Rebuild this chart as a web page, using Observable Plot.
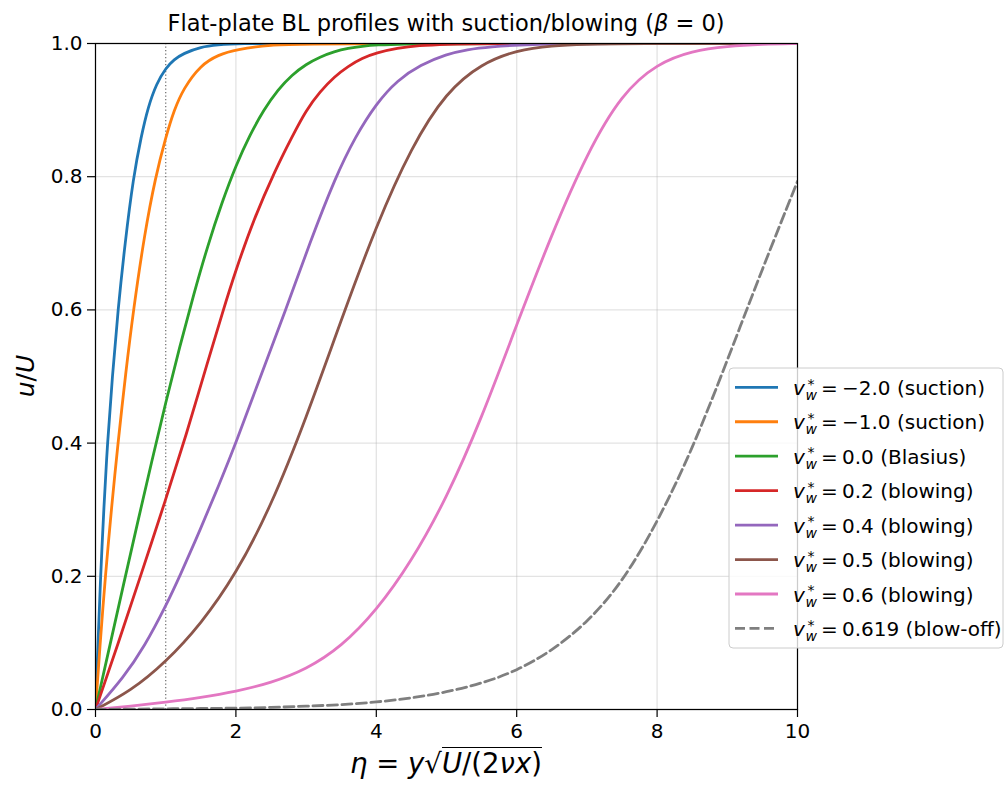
<!DOCTYPE html>
<html><head><meta charset="utf-8">
<script src="https://cdn.jsdelivr.net/npm/d3@7"></script>
<script src="https://cdn.jsdelivr.net/npm/@observablehq/plot@0.6"></script>
<style>
body{margin:0;background:#fff;}
#wrap{position:relative;width:1006px;height:793px;font-family:"DejaVu Sans",sans-serif;}
#xl{position:absolute;left:0;width:892px;top:745px;text-align:center;font-size:27.5px;line-height:37px;white-space:nowrap;}
.rad{border-top:1.7px solid #000;display:inline-block;line-height:31px;}
</style></head><body><div id="wrap"><div id="xl"><i>η</i> = <i>y</i>√<span class="rad"><i>U</i>/(2<i>νx</i>)</span></div></div>
<script>
// ---- data ----
const xTicks = [0, 2, 4, 6, 8, 10];
const yTicks = [0, 0.2, 0.4, 0.6, 0.8, 1.0];

const vwLabels = ["−2.0", "−1.0", "0.0", "0.2", "0.4", "0.5", "0.6", "0.619"];
const regimes = ["suction", "suction", "Blasius", "blowing", "blowing", "blowing", "blowing", "blow-off"];

const etaM20 = [0, 0.035, 0.07, 0.12, 0.17, 0.24, 0.32, 0.42, 0.54, 0.65, 0.75, 0.87, 1.0, 1.12, 1.25, 1.5, 1.75, 2.0, 3.0, 10];
const uM20   = [0, 0.097, 0.195, 0.305, 0.4, 0.5, 0.6, 0.7, 0.8, 0.86, 0.905, 0.94, 0.963, 0.976, 0.985, 0.995, 0.998, 1.0, 1.0, 1.0];

const etaM10 = [0, 0.07, 0.14, 0.23, 0.32, 0.43, 0.54, 0.7, 0.855, 1.0, 1.12, 1.25, 1.5, 1.75, 2.0, 2.5, 3.0, 10];
const uM10   = [0, 0.105, 0.2, 0.305, 0.4, 0.505, 0.6, 0.715, 0.8, 0.859, 0.9, 0.932, 0.968, 0.983, 0.991, 0.998, 1.0, 1.0];

const etaP00 = [0, 0.2, 0.4, 0.6, 0.8, 1.0, 1.2, 1.4, 1.6, 1.8, 2.0, 2.2, 2.4, 2.6, 2.8, 3.0, 3.2, 3.4, 3.6, 3.8, 4.0, 4.4, 5.0, 10];
const uP00   = [0, 0.094, 0.188, 0.281, 0.372, 0.461, 0.545, 0.624, 0.697, 0.761, 0.817, 0.863, 0.901, 0.931, 0.953, 0.969, 0.980, 0.988, 0.993, 0.996, 0.998, 0.9994, 1.0, 1.0];

const etaP02 = [0, 0.32, 0.64, 1.0, 1.3, 1.55, 1.82, 2.0, 2.25, 2.56, 2.8, 3.0, 3.2, 3.4, 3.6, 3.8, 4.0, 4.3, 4.6, 5.0, 5.5, 10];
const uP02   = [0, 0.098, 0.2, 0.315, 0.415, 0.505, 0.6, 0.66, 0.735, 0.81, 0.86, 0.9, 0.928, 0.95, 0.966, 0.978, 0.986, 0.993, 0.997, 0.999, 1.0, 1.0];

const etaP04 = [0, 0.4, 0.7, 1.0, 1.2, 1.5, 1.75, 2.0, 2.35, 2.71, 3.05, 3.42, 3.7, 4.0, 4.3, 4.63, 5.0, 5.3, 5.6, 6.2, 7.0, 10];
const uP04   = [0, 0.048, 0.095, 0.155, 0.2, 0.272, 0.335, 0.4, 0.5, 0.6, 0.7, 0.8, 0.86, 0.91, 0.945, 0.968, 0.984, 0.991, 0.995, 0.999, 1.0, 1.0];

const etaP05 = [0, 0.5, 1.0, 1.5, 2.0, 2.5, 3.0, 3.5, 4.0, 4.5, 5.0, 5.5, 6.0, 6.5, 7.0, 7.5, 10];
const uP05   = [0, 0.0275, 0.071, 0.128, 0.203, 0.305, 0.437, 0.585, 0.727, 0.845, 0.928, 0.97, 0.99, 0.997, 0.999, 1.0, 1.0];

const etaP06 = [0, 0.5, 1.0, 1.5, 2.0, 2.5, 3.0, 3.5, 4.0, 4.5, 5.0, 5.5, 6.0, 6.5, 7.0, 7.5, 8.0, 8.5, 9.0, 9.5, 10];
const uP06   = [0, 0.005, 0.011, 0.018, 0.027, 0.04, 0.06, 0.094, 0.148, 0.222, 0.317, 0.437, 0.578, 0.714, 0.835, 0.925, 0.97, 0.989, 0.996, 0.999, 1.0];

const etaP0619 = [0, 0.5, 1.0, 1.5, 2.0, 2.5, 3.0, 3.5, 4.0, 4.5, 5.0, 5.5, 6.0, 6.5, 7.0, 7.5, 8.0, 8.5, 9.0, 9.5, 10];
const uP0619   = [0, 0.0005, 0.001, 0.0015, 0.002, 0.003, 0.005, 0.007, 0.011, 0.017, 0.026, 0.039, 0.058, 0.088, 0.13, 0.19, 0.28, 0.39, 0.524, 0.662, 0.793];

const etaSets = [etaM20, etaM10, etaP00, etaP02, etaP04, etaP05, etaP06, etaP0619];
const uSets = [uM20, uM10, uP00, uP02, uP04, uP05, uP06, uP0619];

// ---- styles ----
const colors = ["#1f77b4", "#ff7f0e", "#2ca02c", "#d62728", "#9467bd", "#8c564b", "#e377c2", "#7f7f7f"];
const dashes = [null, null, null, null, null, null, null, "10,4.5"];
const LW = 2.8;

const lineMarks = etaSets.map((etas, i) => {
  const rows = etas.map((e, j) => ({eta: e, u: uSets[i][j]}));
  return Plot.line(rows, {x: "eta", y: "u", stroke: colors[i], strokeWidth: LW,
    strokeDasharray: dashes[i] || undefined, curve: "basis", clip: true});
});

const W = 1006, H = 793, ML = 95, MR = 209, MT = 43, MB = 84;

const chart = Plot.plot({
  width: W, height: H, marginLeft: ML, marginRight: MR, marginTop: MT, marginBottom: MB,
  style: {fontFamily: '"DejaVu Sans", sans-serif', fontSize: "20px", background: "white", color: "black", overflow: "visible"},
  x: {domain: [0, 10]},
  y: {domain: [0, 1]},
  marks: [
    Plot.gridX(xTicks, {stroke: "#b0b0b0", strokeOpacity: 0.35, strokeWidth: 1.3}),
    Plot.gridY(yTicks, {stroke: "#b0b0b0", strokeOpacity: 0.35, strokeWidth: 1.3}),
    Plot.ruleX([1], {stroke: "#777", strokeWidth: 1.3, strokeDasharray: "1.3,2.2"}),
    ...lineMarks,
    Plot.frame({stroke: "black", strokeWidth: 1.2}),
    Plot.axisX(xTicks, {tickSize: 8, tickPadding: 6, tickFormat: d => String(d), label: null, fontSize: 20, strokeWidth: 1.2}),
    Plot.axisY(yTicks, {tickSize: 8, tickPadding: 5, tickFormat: d => d.toFixed(1), label: null, fontSize: 20, strokeWidth: 1.2})
  ]
});

const wrap = document.getElementById("wrap");
wrap.insertBefore(chart, wrap.firstChild);
const svg = d3.select(chart);

// title
const cx = ML + (W - ML - MR) / 2;
const t = svg.append("text").attr("x", cx).attr("y", 31).attr("text-anchor", "middle")
  .attr("font-size", 22.5).attr("fill", "black");
t.append("tspan").text("Flat-plate BL profiles with suction/blowing (");
t.append("tspan").attr("font-style", "italic").text("β");
t.append("tspan").text(" = 0)");

// y label
const yl = svg.append("text").attr("transform", `translate(34,${MT + (H - MT - MB) / 2}) rotate(-90)`)
  .attr("text-anchor", "middle").attr("font-size", 25).attr("fill", "black");
yl.append("tspan").attr("font-style", "italic").text("u");
yl.append("tspan").text("/");
yl.append("tspan").attr("font-style", "italic").text("U");

// legend
const lg = svg.append("g").attr("text-anchor", "start");
lg.append("rect").attr("x", 729).attr("y", 368).attr("width", 274).attr("height", 280).attr("rx", 4)
  .attr("fill", "white").attr("fill-opacity", 0.8).attr("stroke", "#cccccc").attr("stroke-width", 1);
vwLabels.forEach((lab, i) => {
  const cy = 387.3 + 34.45 * i;
  const ln = lg.append("line").attr("x1", 735).attr("x2", 778).attr("y1", cy).attr("y2", cy)
    .attr("stroke", colors[i]).attr("stroke-width", LW);
  if (dashes[i]) ln.attr("stroke-dasharray", dashes[i]);
  const by = cy + 7.7;
  const tx = lg.append("text").attr("y", by).attr("font-size", 20).attr("fill", "black").attr("text-anchor", "start");
  tx.append("tspan").attr("x", 793).attr("font-style", "italic").text("v");
  tx.append("tspan").attr("x", 805.5).attr("dy", 5).attr("font-size", 14).attr("font-style", "italic").text("w");
  tx.append("tspan").attr("x", 807.5).attr("dy", -11.5).attr("font-size", 14).text("*");
  tx.append("tspan").attr("x", 821).attr("dy", 6.5).text("=");
  tx.append("tspan").attr("x", 842).text(lab + " (" + regimes[i] + ")");
});
</script></body></html>
